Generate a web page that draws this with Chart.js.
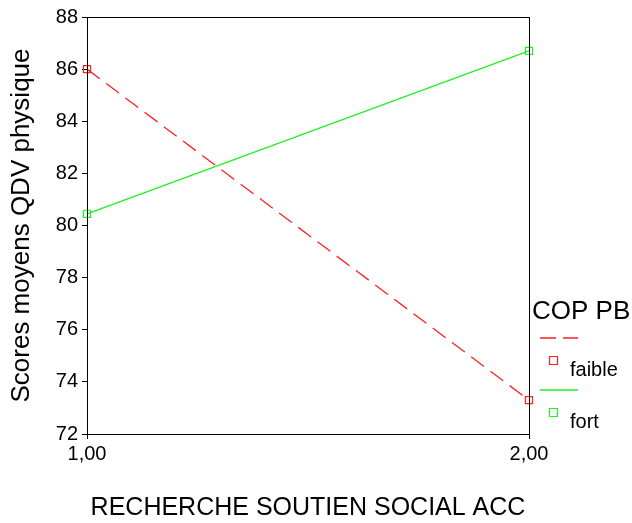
<!DOCTYPE html>
<html>
<head>
<meta charset="utf-8">
<script src="https://cdn.jsdelivr.net/npm/chart.js@4"></script>
<style>
  html, body { margin: 0; padding: 0; background: #fff; }
  #wrap { width: 632px; height: 523px; }
</style>
</head>
<body>
<div id="wrap"><canvas id="c" width="632" height="523"></canvas></div>
<script>
// x positions (RECHERCHE SOUTIEN SOCIAL ACC) and mean scores per COP PB group
const xValues = [1, 2];
const faible = [86.0, 73.3];
const fort = [80.45, 86.7];
const seriesNames = ['faible', 'fort'];
const yTicks = [72, 74, 76, 78, 80, 82, 84, 86, 88];

const FONT = '"Liberation Sans", Arial, sans-serif';
const RED = '#ff2020', GREEN = '#22ee22';

// box round the plot area + the SPSS-like legend on the right
const frame = {
  id: 'frame',
  afterDraw(chart) {
    const { ctx, chartArea: a } = chart;
    ctx.save();
    ctx.strokeStyle = '#000';
    ctx.lineWidth = 1;
    ctx.strokeRect(a.left + 0.5, a.top + 0.5, a.right - a.left, a.bottom - a.top);

    ctx.fillStyle = '#000';
    ctx.font = '26px ' + FONT;
    ctx.textBaseline = 'middle';
    ctx.textAlign = 'left';
    ctx.fillText('COP PB', 532, 312);
    const items = [
      { y: 338, color: RED, dash: [16, 7], label: seriesNames[0] },
      { y: 390, color: GREEN, dash: [], label: seriesNames[1] }
    ];
    ctx.font = '20px ' + FONT;
    items.forEach((it) => {
      ctx.strokeStyle = it.color;
      ctx.lineWidth = 1.5;
      ctx.setLineDash(it.dash);
      ctx.beginPath(); ctx.moveTo(540, it.y); ctx.lineTo(578, it.y); ctx.stroke();
      ctx.setLineDash([]);
      ctx.lineWidth = 1.2;
      ctx.beginPath(); ctx.rect(549.5, it.y + 18.5, 8, 8); ctx.stroke();
      ctx.fillStyle = '#000';
      ctx.fillText(it.label, 570, it.y + 32);
    });
    ctx.restore();
  }
};

new Chart(document.getElementById('c'), {
  type: 'line',
  data: {
    datasets: [
      {
        label: seriesNames[0],
        data: xValues.map((x, i) => ({ x, y: faible[i] })),
        borderColor: RED, borderWidth: 1.3, borderDash: [16, 8], clip: false,
        pointStyle: 'rect', pointRadius: 5, pointBorderColor: RED,
        pointBackgroundColor: 'rgba(0,0,0,0)', pointBorderWidth: 1.2, tension: 0
      },
      {
        label: seriesNames[1],
        data: xValues.map((x, i) => ({ x, y: fort[i] })),
        borderColor: GREEN, borderWidth: 1.3, clip: false,
        pointStyle: 'rect', pointRadius: 5, pointBorderColor: GREEN,
        pointBackgroundColor: 'rgba(0,0,0,0)', pointBorderWidth: 1.2, tension: 0
      }
    ]
  },
  options: {
    responsive: false,
    animation: false,
    layout: { padding: { top: 17, right: 103, left: 0, bottom: 0 } },
    plugins: { legend: { display: false }, tooltip: { enabled: false } },
    scales: {
      x: {
        type: 'linear', min: 1, max: 2,
        afterBuildTicks: (s) => { s.ticks = xValues.map((v) => ({ value: v })); },
        ticks: { color: '#000', font: { family: FONT, size: 20 }, padding: 3,
          callback: (v) => v.toFixed(2).replace('.', ',') },
        grid: { drawOnChartArea: false, color: '#000', tickLength: 5 },
        border: { color: '#000' },
        title: { display: true, text: 'RECHERCHE SOUTIEN SOCIAL ACC', color: '#000',
          font: { family: FONT, size: 25 }, padding: { top: 0, bottom: 0 } },
        afterFit: (s) => { s.height = 89; }
      },
      y: {
        min: 72, max: 88,
        afterBuildTicks: (s) => { s.ticks = yTicks.map((v) => ({ value: v })); },
        ticks: { color: '#000', font: { family: FONT, size: 20 }, padding: 4 },
        grid: { drawOnChartArea: false, color: '#000', tickLength: 5 },
        border: { color: '#000' },
        title: { display: true, text: 'Scores moyens QDV physique', color: '#000',
          font: { family: FONT, size: 26 }, padding: { top: 6, bottom: 0 } },
        afterFit: (s) => { s.width = 87; }
      }
    }
  },
  plugins: [frame]
});
</script>
</body>
</html>
